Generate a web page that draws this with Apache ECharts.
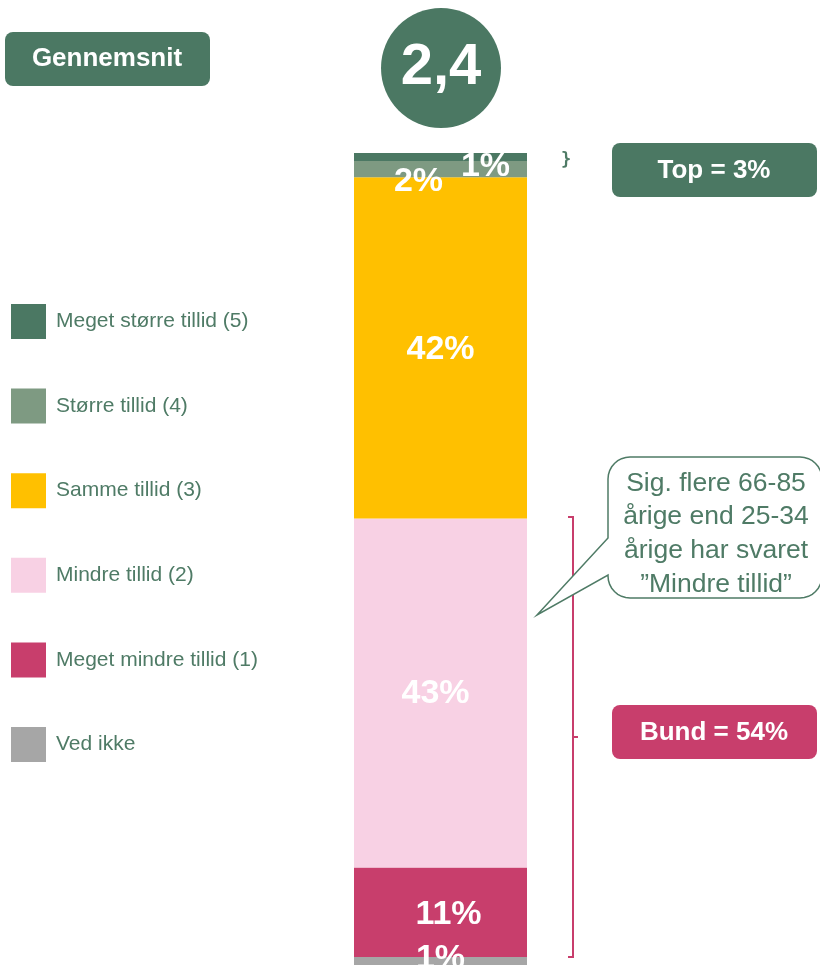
<!DOCTYPE html>
<html>
<head>
<meta charset="utf-8">
<script src="https://cdn.jsdelivr.net/npm/echarts@6/dist/echarts.min.js"></script>
<style>
  html, body { margin: 0; padding: 0; background: #fff; }
  #chart { width: 820px; height: 965px; }
</style>
</head>
<body>
<div id="chart"></div>
<script>
// data, bottom of the bar first
const categories = ['Total'];
const seriesNames = ['Ved ikke', 'Meget mindre tillid (1)', 'Mindre tillid (2)', 'Samme tillid (3)', 'Større tillid (4)', 'Meget større tillid (5)'];
const seriesValues = [1, 11, 43, 42, 2, 1];
const seriesColors = ['#a6a6a6', '#c83e6c', '#f8d1e4', '#ffc000', '#7e9a82', '#4b7863'];
const labelOffsets = [[0, -2], [8, 2], [-5, 1], [0, 2], [-22, 12], [45, 10]];
const legendOrder = ['Meget større tillid (5)', 'Større tillid (4)', 'Samme tillid (3)', 'Mindre tillid (2)', 'Meget mindre tillid (1)', 'Ved ikke'];
const average = '2,4';
const topText = 'Top = 3%';
const bundText = 'Bund = 54%';
const noteLines = ['Sig. flere 66-85', 'årige end 25-34', 'årige har svaret', '”Mindre tillid”'];

const green = '#4b7863';
const textGreen = '#4f7b66';
const magenta = '#c83e6c';
const font = '"Liberation Sans", Arial, sans-serif';

// outline of the speech bubble (rounded box + tail)
function bubblePoints(x0, y0, x1, y1, r, tail) {
  const pts = [];
  function arc(cx, cy, a0, a1) {
    for (let k = 0; k <= 8; k++) {
      const a = a0 + (a1 - a0) * k / 8;
      pts.push([cx + r * Math.cos(a), cy + r * Math.sin(a)]);
    }
  }
  arc(x0 + r, y0 + r, Math.PI, Math.PI * 1.5);
  arc(x1 - r, y0 + r, Math.PI * 1.5, Math.PI * 2);
  arc(x1 - r, y1 - r, 0, Math.PI * 0.5);
  arc(x0 + r, y1 - r, Math.PI * 0.5, Math.PI);
  pts.push([x0, tail[0]], tail[1], [x0, tail[2]]);
  return pts;
}

const chart = echarts.init(document.getElementById('chart'));

const series = seriesNames.map((name, i) => ({
  name: name,
  type: 'bar',
  stack: 'total',
  barWidth: '100%',
  itemStyle: { color: seriesColors[i] },
  label: {
    show: true,
    position: 'inside',
    formatter: '{c}%',
    color: '#fff',
    fontSize: 34,
    fontWeight: 'bold',
    fontFamily: font,
    offset: labelOffsets[i]
  },
  emphasis: { disabled: true },
  data: [seriesValues[i]]
}));

const option = {
  animation: false,
  grid: { left: 354, right: 293, top: 153, bottom: 0 },
  xAxis: { type: 'category', data: categories, show: false },
  yAxis: { type: 'value', min: 0, max: 100, show: false },
  legend: {
    orient: 'vertical',
    left: 6,
    top: 299,
    icon: 'rect',
    itemWidth: 35,
    itemHeight: 35,
    itemGap: 49.6,
    data: legendOrder,
    selectedMode: false,
    textStyle: { color: textGreen, fontSize: 21, fontFamily: font, padding: [0, 0, 0, 5] }
  },
  series: series,
  graphic: [
    // Gennemsnit tag
    { type: 'rect', shape: { x: 5, y: 32, width: 205, height: 54, r: 8 }, style: { fill: green } },
    { type: 'text', x: 107, y: 59, style: { text: 'Gennemsnit', fill: '#fff', font: 'bold 26px ' + font, textAlign: 'center', textVerticalAlign: 'middle' } },
    // average circle
    { type: 'circle', shape: { cx: 441, cy: 68, r: 60 }, style: { fill: green } },
    { type: 'text', x: 441, y: 68, style: { text: average, fill: '#fff', font: 'bold 58px ' + font, textAlign: 'center', textVerticalAlign: 'middle' } },
    // top
    { type: 'text', x: 566, y: 161, style: { text: '}', fill: textGreen, font: 'bold 17px "DejaVu Sans Mono", monospace', textAlign: 'center', textVerticalAlign: 'middle' } },
    { type: 'rect', shape: { x: 612, y: 143, width: 205, height: 54, r: 8 }, style: { fill: green } },
    { type: 'text', x: 714, y: 171, style: { text: topText, fill: '#fff', font: 'bold 26px ' + font, textAlign: 'center', textVerticalAlign: 'middle' } },
    // bund bracket
    { type: 'polyline', shape: { points: [[568, 517], [573, 517], [573, 957], [568, 957]] }, style: { stroke: magenta, lineWidth: 2, fill: null } },
    { type: 'line', shape: { x1: 573, y1: 737, x2: 578, y2: 737 }, style: { stroke: magenta, lineWidth: 2 } },
    { type: 'rect', shape: { x: 612, y: 705, width: 205, height: 54, r: 8 }, style: { fill: magenta } },
    { type: 'text', x: 714, y: 733, style: { text: bundText, fill: '#fff', font: 'bold 26px ' + font, textAlign: 'center', textVerticalAlign: 'middle' } },
    // speech bubble
    {
      type: 'polygon',
      shape: { points: bubblePoints(608, 457, 822, 598, 22, [575, [537, 615], 538]) },
      style: { fill: '#fff', stroke: textGreen, lineWidth: 1.5 }
    },
    { type: 'text', x: 716, y: 534, style: { text: noteLines.join('\n'), fill: textGreen, font: '26.5px ' + font, lineHeight: 33.7, textAlign: 'center', textVerticalAlign: 'middle' } }
  ]
};

chart.setOption(option);
</script>
</body>
</html>
